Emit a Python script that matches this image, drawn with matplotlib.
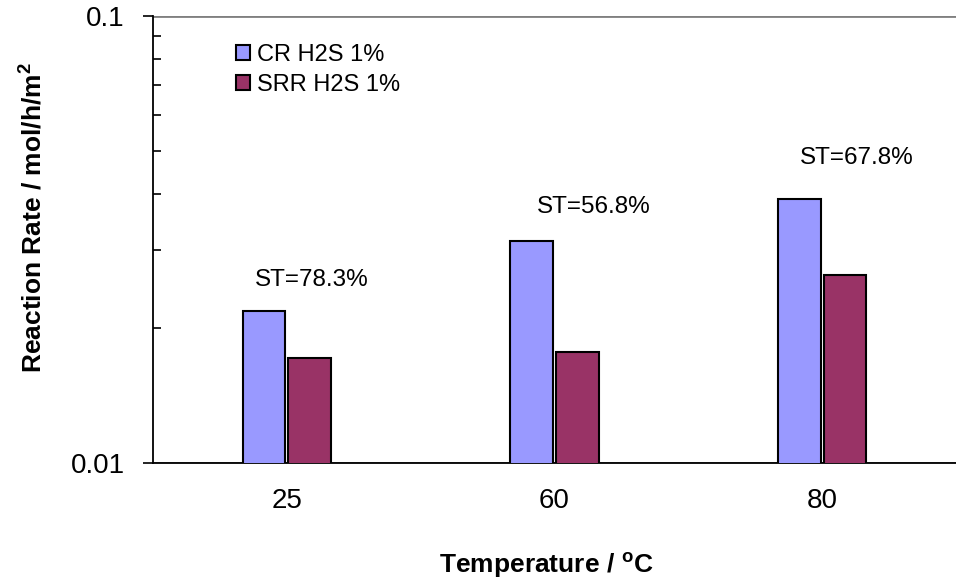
import matplotlib
matplotlib.use("Agg")
import matplotlib.pyplot as plt
from matplotlib.ticker import LogLocator, NullFormatter
import numpy as np

# data
temperatures = ["25", "60", "80"]
cr_rate = [0.0219, 0.0314, 0.0390]
srr_rate = [0.0172, 0.0177, 0.0263]
st_labels = ["ST=78.3%", "ST=56.8%", "ST=67.8%"]
series_names = ["CR H2S 1%", "SRR H2S 1%"]

plt.rcParams["font.family"] = ["Liberation Sans", "DejaVu Sans"]
plt.rcParams["mathtext.fontset"] = "custom"
plt.rcParams["mathtext.rm"] = "Liberation Sans"
plt.rcParams["mathtext.bf"] = "Liberation Sans:bold"

fig = plt.figure(figsize=(9.56, 5.88), dpi=100)
ax = fig.add_axes([153 / 956, 125 / 588, 803 / 956, 447 / 588])

x = np.arange(len(temperatures))
width = 0.16
offset = 0.085
ax.bar(x - offset, cr_rate, width, color="#9999FF", edgecolor="black",
       linewidth=1.5, label=series_names[0], zorder=3)
ax.bar(x + offset, srr_rate, width, color="#993366", edgecolor="black",
       linewidth=1.5, label=series_names[1], zorder=3)

# ST labels sit above the CR bars
label_dx = [48, 62, 57]
label_dy = [25, 28, 35]
for i, txt in enumerate(st_labels):
    ax.annotate(txt, xy=(x[i] - offset, cr_rate[i]),
                xytext=(label_dx[i], label_dy[i]), textcoords="offset pixels",
                ha="center", va="baseline", fontsize=17.5)

ax.set_yscale("log")
ax.set_ylim(0.01, 0.1)
ax.set_xlim(-0.5, 2.5)
ax.set_yticks([0.01, 0.1], ["0.01", "0.1"])
ax.yaxis.set_minor_locator(LogLocator(base=10, subs=np.arange(2, 10)))
ax.yaxis.set_minor_formatter(NullFormatter())
ax.set_xticks(x, temperatures)

ax.tick_params(axis="y", which="major", direction="out", length=7.2,
               width=1.2, labelsize=20, pad=13)
ax.tick_params(axis="y", which="minor", direction="in", length=5.8,
               width=1.2)
ax.tick_params(axis="x", length=0, labelsize=20, pad=18)

ax.yaxis.grid(True, which="major", color="#808080", linewidth=2)
ax.set_axisbelow(True)
for side in ["top", "right"]:
    ax.spines[side].set_visible(False)
for side in ["left", "bottom"]:
    ax.spines[side].set_linewidth(1.3)
    ax.spines[side].set_color("black")

ax.set_ylabel(r"Reaction Rate / mol/h/m$^\mathbf{2}$", fontsize=19,
              fontweight="bold")
ax.yaxis.set_label_coords(-0.133, 0.548)
ax.set_xlabel(r"Temperature / $^\mathbf{o}$C", fontsize=19, fontweight="bold")
ax.xaxis.set_label_coords(0.49, -0.195)

ax.legend(loc="upper left", bbox_to_anchor=(236 / 956, 1 - 44 / 588),
          bbox_transform=fig.transFigure, frameon=False, fontsize=17,
          handlelength=0.6, handleheight=0.6, handletextpad=0.3,
          labelspacing=0.35, borderpad=0, borderaxespad=0)

fig.savefig("out.png", dpi=100)
